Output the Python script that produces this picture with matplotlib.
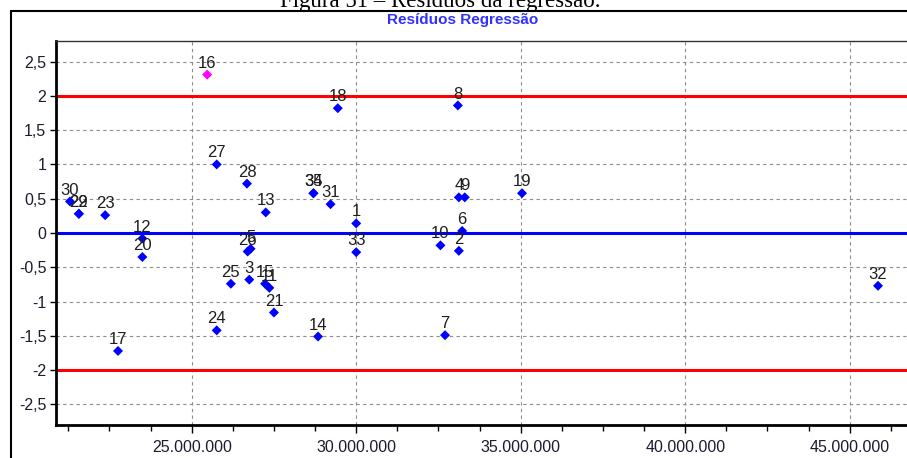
import numpy as np
import matplotlib
matplotlib.use("Agg")
import matplotlib.pyplot as plt
from matplotlib.patches import Rectangle
from matplotlib.ticker import FuncFormatter, MultipleLocator

# Resíduos padronizados da regressão (valor previsto x resíduo)
obs = [1, 2, 3, 4, 5, 6, 7, 8, 9, 10,
       11, 12, 13, 14, 15, 16, 17, 18, 19, 20,
       21, 22, 23, 24, 25, 26, 27, 28, 29, 30,
       31, 32, 33, 34, 35]
previsto = [30000000, 33120000, 26750000, 33120000, 26790000, 33220000, 32700000, 33090000, 33300000, 32560000,
            27360000, 23500000, 27250000, 28840000, 27230000, 25470000, 22760000, 29440000, 35040000, 23500000,
            27500000, 21570000, 22370000, 25760000, 26190000, 26700000, 25760000, 26680000, 21570000, 21300000,
            29220000, 45860000, 30000000, 28700000, 28700000]
residuo = [0.14, -0.26, -0.68, 0.52, -0.23, 0.03, -1.49, 1.86, 0.52, -0.18,
           -0.80, -0.08, 0.30, -1.51, -0.74, 2.31, -1.72, 1.82, 0.58, -0.35,
           -1.16, 0.28, 0.26, -1.42, -0.74, -0.27, 1.00, 0.72, 0.28, 0.46,
           0.42, -0.77, -0.28, 0.58, 0.58]
limite = 2

W, H = 907, 458
fig = plt.figure(figsize=(W / 100, H / 100), dpi=100)
fig.patch.set_facecolor("white")

fonte = ["Liberation Sans", "DejaVu Sans"]

# área do gráfico
x0, x1 = 20875000, 47000000
ax = fig.add_axes([56 / W, 1 - 425 / H, (x1 - x0) / 1e6 * 32.9 / W, 384 / H])
ax.set_xlim(x0, x1)
ax.set_ylim(-2.8, 2.8)

ax.grid(True, which="major", color="#8c8c8c", linestyle=(0, (3, 3)), linewidth=0.8)
ax.axhline(limite, color="#ff0000", linewidth=2.2, zorder=2)
ax.axhline(-limite, color="#ff0000", linewidth=2.2, zorder=2)
ax.axhline(0, color="#0000ff", linewidth=2.2, zorder=2)

x = np.array(previsto)
r = np.array(residuo)
cores = np.where(np.abs(r) > limite, "#ff00ff", "#0000ff")
ax.scatter(x, r, marker="D", s=26, c=cores, linewidths=0, zorder=3)

for n, xi, ri in zip(obs, x, r):
    ax.annotate(str(n), (xi, ri), textcoords="offset points", xytext=(0, 5),
                ha="center", va="baseline", fontsize=12, color="#1e1e1e",
                family=fonte, zorder=4)

ax.xaxis.set_major_locator(MultipleLocator(5000000))
ax.xaxis.set_minor_locator(MultipleLocator(1250000))
ax.yaxis.set_major_locator(MultipleLocator(0.5))
ax.xaxis.set_major_formatter(FuncFormatter(lambda v, p: f"{int(round(v)):,}".replace(",", ".")))
ax.yaxis.set_major_formatter(FuncFormatter(lambda v, p: f"{v:g}".replace(".", ",")))

ax.tick_params(axis="x", which="major", length=6, width=1, pad=5, labelsize=11.5,
               labelcolor="#1c1c30")
ax.tick_params(axis="x", which="minor", length=4, width=1)
ax.tick_params(axis="y", length=4, width=1, pad=3, labelsize=11.5, labelcolor="#1c1c30")
for lbl in ax.get_xticklabels() + ax.get_yticklabels():
    lbl.set_family(fonte)

ax.spines["left"].set_linewidth(2)
ax.spines["bottom"].set_linewidth(2)
ax.spines["top"].set_linewidth(1)
ax.spines["top"].set_color("#333333")
ax.spines["right"].set_visible(False)

# título do gráfico
fig.text(463 / W, 1 - 20 / H, "Resíduos Regressão", ha="center", va="center",
         fontsize=11, fontweight="bold", color="#3030ff", family=fonte)

# moldura externa e legenda do documento
fig.add_artist(Rectangle((11 / W, -0.5), 2, 1.5 - 11 / H, transform=fig.transFigure,
                         fill=False, edgecolor="black", linewidth=1.5))
fig.text(440 / W, 1 - 7 / H, "Figura 51 – Resíduos da regressão.", ha="center",
         va="baseline", fontsize=16.5, family=["Liberation Serif", "DejaVu Serif"])

fig.savefig("out.png", dpi=100)
